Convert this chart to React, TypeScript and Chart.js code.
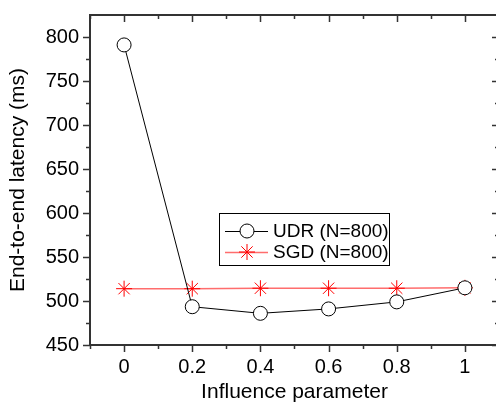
import React, { useEffect, useRef } from "react";
import { Chart, registerables } from "chart.js";

Chart.register(...registerables);

const xValues = [0, 0.2, 0.4, 0.6, 0.8, 1];
const xTickLabels = ["0", "0.2", "0.4", "0.6", "0.8", "1"];
const udrValues = [791, 493.5, 486, 491, 499, 515];
const sgdValues = [514, 514, 514.5, 514.5, 514.5, 515];
const yTicks = [450, 500, 550, 600, 650, 700, 750, 800];
const seriesLabels = ["UDR (N=800)", "SGD (N=800)"];

const FONT = "'Liberation Sans', Arial, sans-serif";

const framePlugin = {
  id: "frame",
  afterDraw(chart: any) {
    const { ctx, chartArea } = chart;
    const xs = chart.scales.x;
    const ys = chart.scales.y;
    const { left, right, top, bottom } = chartArea;
    ctx.save();
    ctx.strokeStyle = "#333";
    ctx.lineWidth = 1.5;
    const xMinor: number[] = [];
    for (let i = -1; i <= 11; i += 2) xMinor.push(i / 10);
    const yMinor: number[] = [];
    for (let v = 475; v <= 825; v += 50) yMinor.push(v);
    ctx.beginPath();
    xValues.forEach((v) => {
      const p = Math.round(xs.getPixelForValue(v)) + 0.5;
      ctx.moveTo(p, bottom);
      ctx.lineTo(p, bottom + 7);
      ctx.moveTo(p, top);
      ctx.lineTo(p, top + 7);
    });
    xMinor.forEach((v) => {
      const p = Math.round(xs.getPixelForValue(v)) + 0.5;
      ctx.moveTo(p, bottom);
      ctx.lineTo(p, bottom + 4);
      ctx.moveTo(p, top);
      ctx.lineTo(p, top + 4);
    });
    yTicks.forEach((v) => {
      const p = Math.round(ys.getPixelForValue(v)) + 0.5;
      ctx.moveTo(left, p);
      ctx.lineTo(left - 7, p);
      ctx.moveTo(right, p);
      ctx.lineTo(right - 7, p);
    });
    yMinor.forEach((v) => {
      if (v >= ys.max) return;
      const p = Math.round(ys.getPixelForValue(v)) + 0.5;
      ctx.moveTo(left, p);
      ctx.lineTo(left - 4, p);
      ctx.moveTo(right, p);
      ctx.lineTo(right - 4, p);
    });
    ctx.stroke();
    ctx.lineWidth = 2;
    ctx.strokeStyle = "#333";
    ctx.strokeRect(left, top, right - left, bottom - top);

    // legend
    const bx = 219.5, by = 213.5, bw = 170, bh = 52;
    ctx.lineWidth = 1;
    ctx.strokeStyle = "#000";
    ctx.fillStyle = "#fff";
    ctx.fillRect(bx, by, bw, bh);
    ctx.strokeRect(bx, by, bw, bh);
    const rows = [231, 252];
    chart.data.datasets.forEach((ds: any, i: number) => {
      const y = rows[i];
      ctx.strokeStyle = ds.borderColor;
      ctx.lineWidth = ds.borderWidth;
      ctx.beginPath();
      ctx.moveTo(225, y + 0.5);
      ctx.lineTo(268, y + 0.5);
      ctx.stroke();
      ctx.fillStyle = ds.pointBackgroundColor;
      ctx.strokeStyle = ds.pointBorderColor;
      ctx.lineWidth = ds.pointBorderWidth;
      const r = ds.pointRadius;
      if (ds.pointStyle === "circle") {
        ctx.beginPath();
        ctx.arc(247, y, r, 0, Math.PI * 2);
        ctx.fill();
        ctx.stroke();
      } else {
        ctx.beginPath();
        for (let k = 0; k < 4; k++) {
          const a = (k * Math.PI) / 4;
          ctx.moveTo(247 - r * Math.cos(a), y - r * Math.sin(a));
          ctx.lineTo(247 + r * Math.cos(a), y + r * Math.sin(a));
        }
        ctx.stroke();
      }
      ctx.fillStyle = "#000";
      ctx.font = `19px ${FONT}`;
      ctx.textBaseline = "middle";
      ctx.textAlign = "left";
      ctx.fillText(ds.label, 273, y + 1);
    });
    ctx.restore();
  },
};

export default function App() {
  const ref = useRef<HTMLCanvasElement>(null);
  useEffect(() => {
    if (!ref.current) return;
    const chart = new Chart(ref.current, {
      type: "line",
      data: {
        datasets: [
          {
            label: seriesLabels[0],
            data: xValues.map((x, i) => ({ x, y: udrValues[i] })),
            borderColor: "#000",
            borderWidth: 1,
            pointStyle: "circle",
            pointRadius: 7,
            pointBackgroundColor: "#fff",
            pointBorderColor: "#000",
            pointBorderWidth: 1,
          },
          {
            label: seriesLabels[1],
            data: xValues.map((x, i) => ({ x, y: sgdValues[i] })),
            borderColor: "rgba(255,60,60,0.75)",
            borderWidth: 1.5,
            pointStyle: "star",
            pointRadius: 8,
            pointBackgroundColor: "#f00",
            pointBorderColor: "#f00",
            pointBorderWidth: 1,
          },
        ],
      },
      options: {
        responsive: false,
        animation: false,
        layout: { padding: { top: 15, right: 11, left: 0, bottom: 0 } },
        plugins: { legend: { display: false }, tooltip: { enabled: false } },
        scales: {
          x: {
            type: "linear",
            min: -0.1,
            max: 1.1,
            grid: { display: false, drawTicks: false },
            border: { display: false },
            afterBuildTicks: (s: any) => {
              s.ticks = xValues.map((v) => ({ value: v }));
            },
            afterFit: (s: any) => {
              s.height = 58;
              s.paddingLeft = 0;
              s.paddingRight = 0;
            },
            ticks: {
              color: "#000",
              padding: 10,
              font: { family: FONT, size: 20 },
              callback: (v: any) => {
                const i = xValues.indexOf(Number(v));
                return i >= 0 ? xTickLabels[i] : "";
              },
              maxRotation: 0,
            },
            title: {
              display: true,
              text: "Influence parameter",
              color: "#000",
              font: { family: FONT, size: 21, lineHeight: 1 },
              padding: { top: 0, bottom: 0 },
            },
          },
          y: {
            min: 450,
            max: 825,
            grid: { display: false, drawTicks: false },
            border: { display: false },
            afterBuildTicks: (s: any) => {
              s.ticks = yTicks.map((v) => ({ value: v }));
            },
            afterFit: (s: any) => {
              s.width = 90;
              s.paddingTop = 0;
              s.paddingBottom = 0;
            },
            ticks: {
              color: "#000",
              padding: 11,
              font: { family: FONT, size: 20 },
            },
            title: {
              display: true,
              text: "End-to-end latency (ms)",
              color: "#000",
              font: { family: FONT, size: 21, lineHeight: 1 },
              padding: { top: 8, bottom: 0 },
            },
          },
        },
      },
      plugins: [framePlugin],
    });
    return () => chart.destroy();
  }, []);
  return (
    <div style={{ position: "fixed", left: 0, top: 0, width: 510, height: 403, background: "#fff" }}>
      <canvas ref={ref} width={510} height={403} style={{ display: "block" }} />
    </div>
  );
}
